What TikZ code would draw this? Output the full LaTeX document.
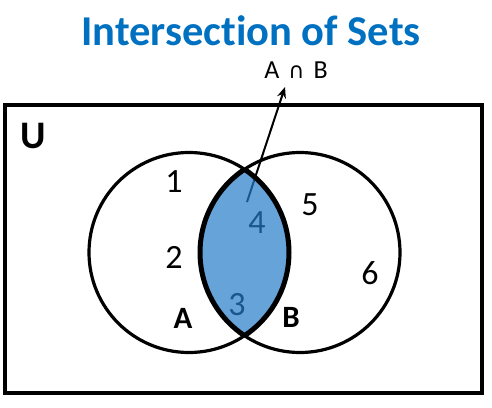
\documentclass[tikz,border=0pt]{standalone}
\usepackage{fontspec}
\setmainfont[Ligatures=NoCommon]{Carlito}
\newfontfamily\symfont{DejaVu Sans}
\usetikzlibrary{arrows.meta}
\definecolor{titleblue}{RGB}{0,112,192}
\definecolor{lensblue}{RGB}{36,124,200}

\begin{document}
\begin{tikzpicture}[x=1pt,y=1pt,
    setline/.style={line width=3.2pt},
    numlabel/.style={font=\fontsize{34}{40}\selectfont, inner sep=0pt, anchor=base},
    setname/.style={font=\fontsize{31}{36}\selectfont\bfseries, inner sep=0pt, anchor=base}]
                \useasboundingbox (0,0) rectangle (492,-407);
                \coordinate (cA) at (189,-252.5);
                \coordinate (cB) at (300,-252.5);
                \node[titleblue, font=\fontsize{42.5}{48}\selectfont\bfseries, inner sep=0pt, anchor=base] (title) at (251,-45) {Intersection of Sets};
                \node[font=\fontsize{26}{30}\selectfont, inner sep=0pt, anchor=base] (inter) at (296,-78) {A\hspace{0.35em}{\symfont\fontsize{22}{30}\selectfont ∩}\hspace{0.35em}B};
                \draw[line width=4.8pt] (5,-105) rectangle (482,-393);
                \node[font=\fontsize{39}{45}\selectfont\bfseries, inner sep=0pt, anchor=base] (univ) at (33,-148) {U};
                \draw[setline] (cA) circle (100);
                \draw[setline] (cB) circle (100);
                \coordinate (tail) at (247,-202);
                \coordinate (tip) at (285,-87);
                \draw[-{Stealth[length=11pt,width=9pt]}, line width=2pt] (tail) -- (tip);
                \foreach \n/\x/\y in {1/174/192, 2/174/268, 3/237/315, 4/257/233, 5/310/215, 6/370/284} {
                    \node[numlabel] (num\n) at (\x,-\y) {\n};
                }
                \node[setname] (nameA) at (183,-328) {A};
                \node[setname] (nameB) at (291,-327) {B};
                % shaded overlap, laid over the labels so they show through darker
                \begin{scope}
                    \clip (cA) circle (100);
                    \fill[lensblue, fill opacity=0.7] (cB) circle (100);
                    \draw[line width=5pt] (cB) circle (100);
                \end{scope}
                \begin{scope}
                    \clip (cB) circle (100);
                    \draw[line width=5pt] (cA) circle (100);
                \end{scope}
            \end{tikzpicture}
\end{document}
